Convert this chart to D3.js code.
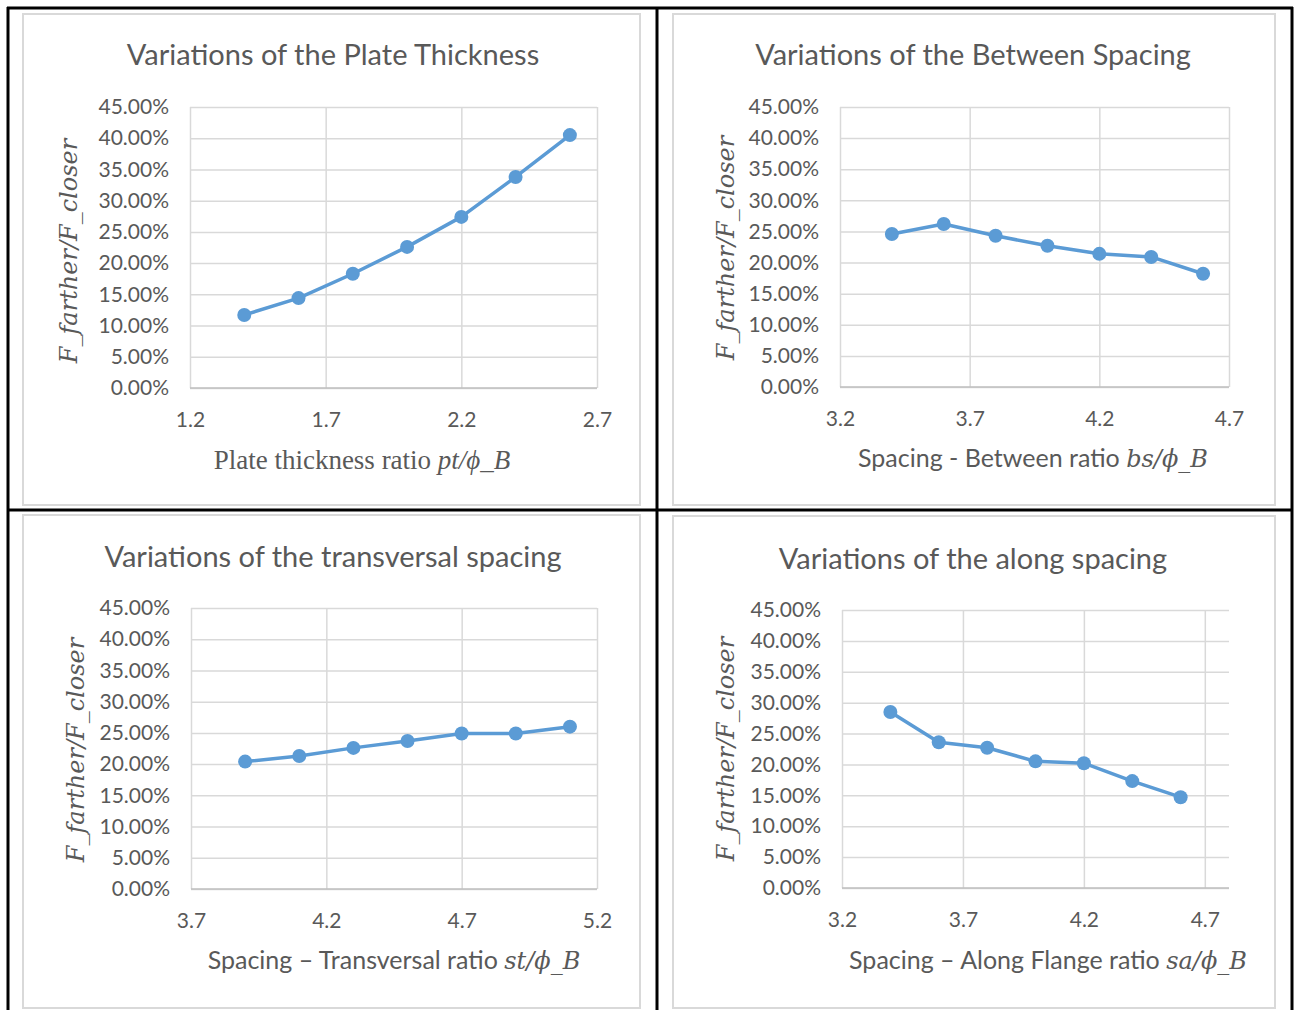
<!DOCTYPE html>
<html>
<head>
<meta charset="utf-8">
<script src="https://cdn.jsdelivr.net/npm/d3@7"></script>
<style>
  body { margin: 0; background: #fff; }
  svg text { fill: #595959; }
</style>
</head>
<body>
<div id="chart"></div>
<script>
const width = 1295;
const height = 1010;

// chart values
const plateX = [1.4, 1.6, 1.8, 2.0, 2.2, 2.4, 2.6];
const plateY = [0.117, 0.144, 0.183, 0.226, 0.274, 0.338, 0.405];

const betweenX = [3.4, 3.6, 3.8, 4.0, 4.2, 4.4, 4.6];
const betweenY = [0.246, 0.262, 0.243, 0.227, 0.214, 0.209, 0.182];

const transX = [3.9, 4.1, 4.3, 4.5, 4.7, 4.9, 5.1];
const transY = [0.204, 0.213, 0.226, 0.237, 0.249, 0.249, 0.260];

const alongX = [3.4, 3.6, 3.8, 4.0, 4.2, 4.4, 4.6];
const alongY = [0.285, 0.236, 0.227, 0.205, 0.202, 0.173, 0.147];

const yTicks = [0, 0.05, 0.10, 0.15, 0.20, 0.25, 0.30, 0.35, 0.40, 0.45];

const titles = [
  "Variations of the Plate Thickness",
  "Variations of the Between Spacing",
  "Variations of the transversal spacing",
  "Variations of the along spacing"
];
const xLabelText = ["Plate thickness ratio ", "Spacing - Between ratio ", "Spacing \u2013 Transversal ratio ", "Spacing \u2013 Along Flange ratio "];
const xLabelMath = ["pt/\u03d5_B", "bs/\u03d5_B", "st/\u03d5_B", "sa/\u03d5_B"];
const xDomains = [[1.2, 2.7], [3.2, 4.7], [3.7, 5.2], [3.2, 4.8]];
const xTicks = [[1.2, 1.7, 2.2, 2.7], [3.2, 3.7, 4.2, 4.7], [3.7, 4.2, 4.7, 5.2], [3.2, 3.7, 4.2, 4.7]];
const yLabel = "F_farther/F_closer";

// layout of each panel (page pixels)
const panels = [
  { box: [23, 14, 640, 505], plot: [190, 107, 597, 388], titleX: 333, titleY: 65, xlabX: 362, xlabY: 469, ylabX: 77, ylabY: 251, serifX: true },
  { box: [673, 14, 1275, 505], plot: [840, 107, 1229, 387], titleX: 973, titleY: 65, xlabX: 1033, xlabY: 467, ylabX: 734, ylabY: 248 },
  { box: [23, 515, 640, 1008], plot: [191, 608, 597, 889], titleX: 333, titleY: 567, xlabX: 394, xlabY: 969, ylabX: 84, ylabY: 750 },
  { box: [673, 516, 1275, 1008], plot: [842, 610, 1229, 888], titleX: 973, titleY: 569, xlabX: 1048, xlabY: 969, ylabX: 734, ylabY: 749 }
];
const series = [[plateX, plateY], [betweenX, betweenY], [transX, transY], [alongX, alongY]];

const svg = d3.select("#chart").append("svg")
  .attr("width", width)
  .attr("height", height);

const sans = "Lato, 'Open Sans', sans-serif";
const mathFont = "'DejaVu Serif', serif";

panels.forEach((p, i) => {
  const [bx0, by0, bx1, by1] = p.box;
  const [px0, py0, px1, py1] = p.plot;
  const g = svg.append("g");

  // chart area border
  g.append("rect")
    .attr("x", bx0).attr("y", by0)
    .attr("width", bx1 - bx0).attr("height", by1 - by0)
    .attr("fill", "#fff")
    .attr("stroke", "#d9d9d9")
    .attr("stroke-width", 2);

  const x = d3.scaleLinear().domain(xDomains[i]).range([px0, px1]);
  const y = d3.scaleLinear().domain([0, 0.45]).range([py1, py0]);

  // horizontal gridlines + y tick labels
  const yAxis = g.append("g")
    .attr("transform", `translate(${px0},0)`)
    .call(d3.axisLeft(y).tickValues(yTicks).tickFormat(d3.format(".2%"))
      .tickSize(-(px1 - px0)).tickPadding(21));
  yAxis.select(".domain").remove();
  yAxis.selectAll("line").attr("stroke", "#d9d9d9").attr("stroke-width", 1.5);
  yAxis.selectAll("text").attr("font-family", sans).attr("font-size", 21).style("fill", "#595959");

  // vertical gridlines + x tick labels
  const xAxis = g.append("g")
    .attr("transform", `translate(0,${py1})`)
    .call(d3.axisBottom(x).tickValues(xTicks[i]).tickFormat(d3.format(".1f"))
      .tickSize(-(py1 - py0)).tickPadding(24));
  xAxis.select(".domain").remove();
  xAxis.selectAll("line").attr("stroke", "#d9d9d9").attr("stroke-width", 1.5);
  xAxis.selectAll("text").attr("font-family", sans).attr("font-size", 21).style("fill", "#595959");

  // horizontal axis line
  g.append("line")
    .attr("x1", px0).attr("x2", px1)
    .attr("y1", py1).attr("y2", py1)
    .attr("stroke", "#bfbfbf").attr("stroke-width", 1.5);

  // title
  g.append("text")
    .attr("x", p.titleX).attr("y", p.titleY)
    .attr("text-anchor", "middle")
    .attr("font-family", sans)
    .attr("font-size", 29)
    .text(titles[i]);

  // x axis title
  const xl = g.append("text")
    .attr("x", p.xlabX).attr("y", p.xlabY)
    .attr("text-anchor", "middle");
  xl.append("tspan")
    .attr("font-family", p.serifX ? "'Liberation Serif', serif" : sans)
    .attr("font-size", p.serifX ? 27 : 25)
    .text(xLabelText[i]);
  xl.append("tspan")
    .attr("font-family", p.serifX ? "'Liberation Serif', serif" : mathFont)
    .attr("font-style", "italic")
    .attr("font-size", p.serifX ? 27 : 24)
    .text(xLabelMath[i]);

  // y axis title
  g.append("text")
    .attr("transform", `translate(${p.ylabX},${p.ylabY}) rotate(-90)`)
    .attr("text-anchor", "middle")
    .attr("font-family", mathFont)
    .attr("font-style", "italic")
    .attr("font-size", 24)
    .text(yLabel);

  // series
  const pts = series[i][0].map((v, k) => [v, series[i][1][k]]);
  g.append("path")
    .datum(pts)
    .attr("fill", "none")
    .attr("stroke", "#5b9bd5")
    .attr("stroke-width", 3.5)
    .attr("stroke-linejoin", "round")
    .attr("d", d3.line().x(d => x(d[0])).y(d => y(d[1])));

  g.selectAll("circle.pt")
    .data(pts)
    .enter().append("circle")
    .attr("class", "pt")
    .attr("cx", d => x(d[0]))
    .attr("cy", d => y(d[1]))
    .attr("r", 7)
    .attr("fill", "#5b9bd5");
});

// black table lines
const frame = svg.append("g").attr("stroke", "#000").attr("stroke-width", 3);
frame.append("line").attr("x1", 8).attr("x2", 8).attr("y1", 7).attr("y2", height);
frame.append("line").attr("x1", 657).attr("x2", 657).attr("y1", 7).attr("y2", height);
frame.append("line").attr("x1", 1292).attr("x2", 1292).attr("y1", 7).attr("y2", height);
frame.append("line").attr("x1", 7).attr("x2", 1293).attr("y1", 8).attr("y2", 8);
frame.append("line").attr("x1", 7).attr("x2", 1293).attr("y1", 510).attr("y2", 510);
</script>
</body>
</html>
